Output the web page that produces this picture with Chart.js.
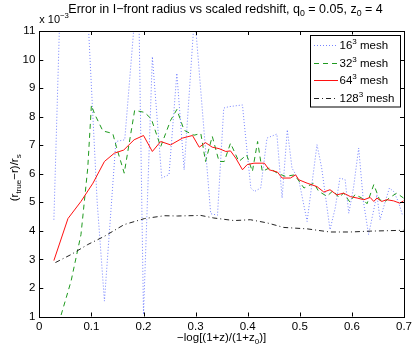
<!DOCTYPE html>
<html><head><meta charset="utf-8">
<script src="https://cdn.jsdelivr.net/npm/chart.js@4.4.1/dist/chart.umd.min.js"></script>
<style>html,body{margin:0;padding:0;background:#fff}#wrap{width:415px;height:350px}</style>
</head><body><div id="wrap"><canvas id="c" width="415" height="350"></canvas></div>
<script>
// values in units of 1e-3
const mesh16X = [0.028,0.040,0.092,0.111,0.125,0.147,0.164,0.190,0.200,0.217,0.235,0.249,0.264,0.278,0.298,0.329,0.342,0.354,0.364,0.390,0.393,0.406,0.413,0.425,0.437,0.456,0.466,0.476,0.485,0.498,0.514,0.533,0.542,0.558,0.568,0.577,0.587,0.594,0.603,0.613,0.622,0.632,0.640,0.648,0.654,0.664,0.672,0.680,0.689,0.697];
const mesh16Y = [4.39,12.0,12.0,5.03,1.54,7.13,7.19,13.0,1.07,10.10,5.85,5.97,9.52,6.14,11.6,4.60,4.55,8.30,8.35,8.41,7.83,5.50,5.38,5.50,7.25,7.39,5.15,7.54,6.20,5.79,4.33,7.02,6.20,4.04,4.80,5.85,5.79,4.62,5.50,6.90,5.04,3.87,4.57,5.27,4.39,5.03,5.50,5.38,5.03,4.56];

const mesh32X = [0.037,0.061,0.080,0.093,0.100,0.106,0.122,0.141,0.148,0.163,0.183,0.202,0.215,0.233,0.252,0.264,0.278,0.297,0.310,0.319,0.332,0.345,0.355,0.367,0.383,0.398,0.409,0.419,0.428,0.441,0.457,0.472,0.490,0.508,0.527,0.536,0.552,0.564,0.575,0.584,0.596,0.606,0.619,0.629,0.642,0.653,0.664,0.673,0.686,0.699];
const mesh32Y = [0.75,2.24,3.87,6.20,8.40,8.10,7.50,7.41,6.94,6.02,8.22,8.15,7.92,6.95,7.87,8.25,7.52,7.35,7.41,6.43,7.31,6.43,6.43,7.07,6.43,6.66,6.08,7.13,6.08,6.20,6.02,5.91,5.96,5.50,5.67,5.39,5.21,5.41,5.17,5.32,5.01,5.27,5.15,4.95,5.62,5.09,5.03,5.17,5.32,5.15];

const mesh64X = [0.028,0.055,0.080,0.103,0.125,0.144,0.162,0.182,0.200,0.217,0.233,0.252,0.275,0.294,0.307,0.319,0.332,0.345,0.358,0.367,0.377,0.390,0.399,0.412,0.432,0.441,0.457,0.466,0.482,0.492,0.498,0.514,0.533,0.546,0.558,0.571,0.584,0.597,0.610,0.623,0.635,0.642,0.648,0.657,0.667,0.680,0.692,0.699];
const mesh64Y = [2.96,4.43,5.03,5.67,6.43,6.72,6.83,7.19,7.34,6.78,7.13,7.01,7.25,7.34,6.93,7.09,6.93,6.88,6.78,6.80,6.55,6.14,6.32,6.37,6.37,6.14,6.06,5.85,5.85,5.96,5.79,5.67,5.55,5.36,5.44,5.26,5.32,5.20,5.15,5.09,5.17,5.03,5.15,5.03,5.09,5.05,4.97,5.05];

const mesh128X = [0.031,0.061,0.093,0.125,0.163,0.202,0.240,0.265,0.310,0.335,0.374,0.405,0.437,0.469,0.514,0.558,0.597,0.635,0.699];
const mesh128Y = [2.89,3.17,3.52,3.81,4.22,4.43,4.53,4.52,4.54,4.45,4.36,4.39,4.28,4.12,4.07,3.96,3.96,3.99,4.02];

const xTicks = [0,0.1,0.2,0.3,0.4,0.5,0.6,0.7];
const yTicks = [1,2,3,4,5,6,7,8,9,10,11];
const seriesNames = ['16','32','64','128'];

const FONT = '"Liberation Sans", Arial, sans-serif';
function pts(xs, ys){ return xs.map((x,i)=>({x:x, y:ys[i]})); }

const styles = [
  {color:'rgba(60,80,255,0.7)', dash:[1,2], order:4},
  {color:'#1f9a1f', dash:[5,4], order:3},
  {color:'#ff1010', dash:[], order:2},
  {color:'#222222', dash:[5,3,1,3], order:1}
];
const allX = [mesh16X, mesh32X, mesh64X, mesh128X];
const allY = [mesh16Y, mesh32Y, mesh64Y, mesh128Y];

function drawRich(ctx, segs, x, y, size, align){
  const items = segs.map(s=>{
    const fs = s.k ? size*0.7 : size;
    ctx.font = fs + 'px ' + FONT;
    return {t:s.t, fs:fs, w:ctx.measureText(s.t).width, dy: s.k==='sub' ? size*0.3 : (s.k==='sup' ? -size*0.42 : 0)};
  });
  const W = items.reduce((a,b)=>a+b.w,0);
  let cx = align==='center' ? x - W/2 : x;
  ctx.textBaseline = 'alphabetic';
  ctx.textAlign = 'left';
  for (const it of items){
    ctx.font = it.fs + 'px ' + FONT;
    ctx.fillText(it.t, cx, y + it.dy);
    cx += it.w;
  }
  return W;
}

const decor = {
  id:'decor',
  afterDraw(chart){
    const ctx = chart.ctx, a = chart.chartArea;
    const xs = chart.scales.x, ys = chart.scales.y;
    ctx.save();
    ctx.strokeStyle = '#000'; ctx.lineWidth = 1;
    // ticks inward
    ctx.beginPath();
    for (const v of xTicks){
      const p = Math.round(xs.getPixelForValue(v))+0.5;
      ctx.moveTo(p, a.bottom); ctx.lineTo(p, a.bottom-4);
      ctx.moveTo(p, a.top); ctx.lineTo(p, a.top+4);
    }
    for (const v of yTicks){
      const p = Math.round(ys.getPixelForValue(v))+0.5;
      ctx.moveTo(a.left, p); ctx.lineTo(a.left+4, p);
      ctx.moveTo(a.right, p); ctx.lineTo(a.right-4, p);
    }
    ctx.stroke();
    ctx.strokeRect(Math.round(a.left)+0.5, Math.round(a.top)+0.5, Math.round(a.right-a.left), Math.round(a.bottom-a.top));
    // legend
    const lx = a.right - 94, ly = a.top + 3.5, lw = 90, lh = 71.5;
    ctx.fillStyle = '#fff';
    ctx.fillRect(lx, ly, lw, lh);
    ctx.strokeStyle = '#000';
    ctx.strokeRect(Math.round(lx)+0.5, Math.round(ly)+0.5, lw, lh);
    for (let i=0;i<4;i++){
      const cy = ly + 10.5 + i*17.5;
      ctx.strokeStyle = styles[i].color; ctx.setLineDash(styles[i].dash);
      ctx.lineWidth = 1;
      ctx.beginPath(); ctx.moveTo(lx+4, Math.round(cy)+0.5); ctx.lineTo(lx+28, Math.round(cy)+0.5); ctx.stroke();
      ctx.setLineDash([]);
      ctx.fillStyle = '#000';
      drawRich(ctx, [{t:seriesNames[i]},{t:'3',k:'sup'},{t:' mesh'}], lx+29.5, cy+4, 11.5, 'left');
    }
    ctx.fillStyle = '#000';
    // title
    drawRich(ctx, [{t:'Error in I\u2212front radius vs scaled redshift, q'},{t:'0',k:'sub'},{t:' = 0.05, z'},{t:'0',k:'sub'},{t:' = 4'}], 225.5, 12.5, 12.5, 'center');
    // exponent
    drawRich(ctx, [{t:'x 10'},{t:'\u22123',k:'sup'}], a.left, 23, 11, 'left');
    // x label
    drawRich(ctx, [{t:'\u2212log[(1+z)/(1+z'},{t:'0',k:'sub'},{t:')]'}], (a.left+a.right)/2, 341, 11.5, 'center');
    // y label
    ctx.translate(18, (a.top+a.bottom)/2 + 4);
    ctx.rotate(-Math.PI/2);
    drawRich(ctx, [{t:'(r'},{t:'true',k:'sub'},{t:'\u2212r)/r'},{t:'s',k:'sub'}], 0, 0, 11.5, 'center');
    ctx.restore();
  }
};

Chart.defaults.font.family = FONT;
Chart.defaults.font.size = 11.5;
Chart.defaults.color = '#000';

new Chart(document.getElementById('c'), {
  type:'scatter',
  data:{ datasets: allX.map((xs,i)=>({
    label: seriesNames[i] + '\u00b3 mesh',
    data: pts(xs, allY[i]),
    showLine:true, pointRadius:0, borderWidth:1,
    borderColor: styles[i].color, borderDash: styles[i].dash,
    order: styles[i].order, tension:0
  }))},
  options:{
    responsive:false, animation:false, devicePixelRatio:1,
    layout:{padding:{top:31, right:10, left:0, bottom:0}},
    plugins:{legend:{display:false}, tooltip:{enabled:false}, title:{display:false}},
    scales:{
      x:{type:'linear', min:0, max:0.7,
         afterBuildTicks: s => { s.ticks = xTicks.map(v=>({value:v})); },
         afterFit: s => { s.height = 33.5; },
         grid:{display:false, drawTicks:false}, border:{display:false},
         ticks:{padding:3, maxRotation:0, autoSkip:false, callback: v => v===0 ? '0' : v.toFixed(1)}},
      y:{type:'linear', min:1, max:11,
         afterBuildTicks: s => { s.ticks = yTicks.map(v=>({value:v})); },
         afterFit: s => { s.width = 39.3; },
         grid:{display:false, drawTicks:false}, border:{display:false},
         ticks:{padding:4, autoSkip:false, callback: v => String(v)}}
    }
  },
  plugins:[decor]
});
</script></body></html>
